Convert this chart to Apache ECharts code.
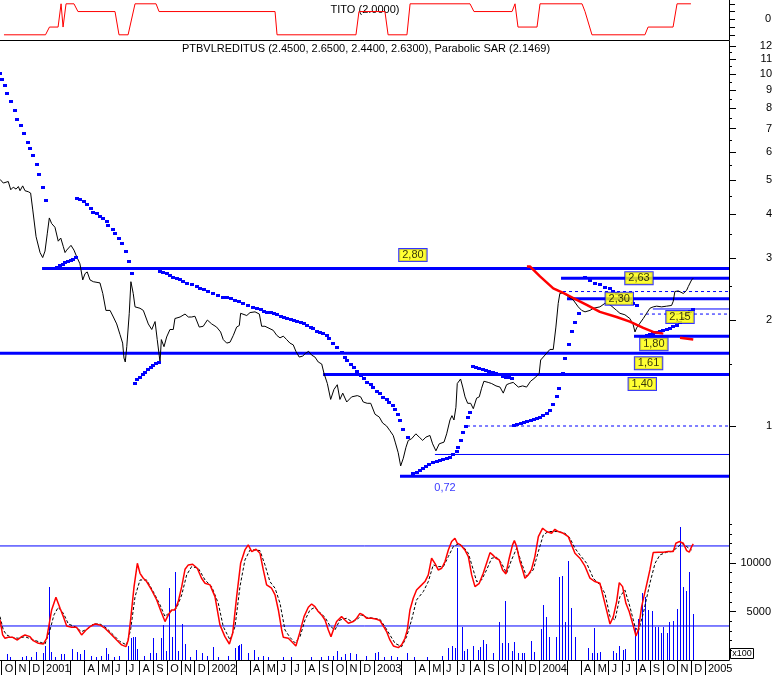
<!DOCTYPE html>
<html><head><meta charset="utf-8">
<script src="https://cdn.jsdelivr.net/npm/echarts@6/dist/echarts.min.js"></script>
<style>html,body{margin:0;padding:0;background:#fff}#c{width:776px;height:675px}</style>
</head><body><div id="c"></div>
<script>
// ---------- axis ranges & tick labels ----------
const xMin = 2000.740, xMax = 2005.145;
const monthLetters = ['', '', '', 'A', 'M', 'J', 'J', 'A', 'S', 'O', 'N', 'D'];
const priceTicks = [1,2,3,4,5,6,7,8,9,10,11,12];
const priceMinorTicks = [1.5,2.5,3.5,4.5,5.5,6.5,7.5,8.5,9.5,10.5,11.5];
const volTicks = [5000, 10000];
const volMinorTicks = [1000,2000,3000,4000,6000,7000,8000,9000,11000,12000,13000,14000];
const titoTicks = [-2,-1,0,1,2];
const titoLabels = [0];
const oscLevels = [80, 20];

// ---------- TITO indicator ----------
const titoData = [[2000.764,-2],[2001.015,-2],[2001.039,-1],[2001.091,-1],[2001.109,2],[2001.121,-1],[2001.139,2],[2001.187,2],[2001.211,1],[2001.435,1],[2001.459,-2],[2001.514,-2],[2001.556,2],[2001.683,2],[2001.701,1],[2002.402,1],[2002.414,-2],[2002.891,-2],[2002.909,1],[2003.066,1],[2003.085,-2],[2003.199,-2],[2003.218,2],[2003.580,2],[2003.604,1],[2003.834,1],[2003.852,2],[2003.870,-1],[2003.985,-1],[2004.003,2],[2004.257,2],[2004.275,1],[2004.317,-2],[2004.637,-2],[2004.656,-1],[2004.807,-1],[2004.831,2],[2004.915,2]];

// ---------- price (close) ----------
const priceData = [[2000.740,5.02],[2000.760,4.90],[2000.790,4.95],[2000.805,4.69],[2000.820,4.77],[2000.837,4.71],[2000.851,4.79],[2000.861,4.66],[2000.877,4.81],[2000.891,4.66],[2000.911,4.63],[2000.925,4.59],[2000.938,4.11],[2000.958,3.45],[2000.982,3.11],[2000.998,3.01],[2001.012,3.14],[2001.026,3.53],[2001.038,3.90],[2001.052,3.76],[2001.072,3.67],[2001.083,3.63],[2001.092,3.35],[2001.107,3.42],[2001.122,3.24],[2001.133,3.11],[2001.143,3.16],[2001.169,3.26],[2001.187,3.16],[2001.203,3.03],[2001.223,2.89],[2001.240,2.60],[2001.254,2.71],[2001.267,2.74],[2001.284,2.60],[2001.304,2.57],[2001.344,2.55],[2001.361,2.38],[2001.380,2.13],[2001.405,2.13],[2001.425,2.04],[2001.445,1.95],[2001.465,1.82],[2001.481,1.72],[2001.489,1.56],[2001.497,1.52],[2001.506,1.68],[2001.521,2.09],[2001.531,2.57],[2001.538,2.60],[2001.545,2.38],[2001.556,2.18],[2001.586,2.16],[2001.606,2.13],[2001.636,1.95],[2001.657,1.88],[2001.677,1.98],[2001.690,1.76],[2001.707,1.52],[2001.715,1.76],[2001.731,1.68],[2001.747,1.79],[2001.767,1.88],[2001.787,1.88],[2001.797,2.02],[2001.828,2.04],[2001.858,2.08],[2001.878,2.04],[2001.898,2.04],[2001.918,2.05],[2001.944,1.91],[2001.968,1.92],[2001.993,2.00],[2002.019,1.95],[2002.049,1.91],[2002.073,1.85],[2002.089,1.76],[2002.110,1.72],[2002.130,1.73],[2002.150,1.81],[2002.170,1.91],[2002.186,1.93],[2002.194,2.09],[2002.206,2.11],[2002.231,2.06],[2002.251,2.10],[2002.281,2.11],[2002.307,2.08],[2002.321,1.92],[2002.341,1.92],[2002.391,1.87],[2002.412,1.81],[2002.432,1.78],[2002.452,1.80],[2002.472,1.76],[2002.492,1.72],[2002.512,1.70],[2002.528,1.63],[2002.548,1.57],[2002.569,1.58],[2002.587,1.61],[2002.605,1.63],[2002.623,1.59],[2002.643,1.57],[2002.663,1.52],[2002.684,1.50],[2002.698,1.41],[2002.718,1.32],[2002.738,1.19],[2002.758,1.27],[2002.778,1.31],[2002.794,1.19],[2002.811,1.24],[2002.835,1.17],[2002.865,1.21],[2002.899,1.22],[2002.919,1.21],[2002.935,1.17],[2002.959,1.16],[2002.980,1.16],[2002.992,1.16],[2003.006,1.08],[2003.032,1.06],[2003.052,1.02],[2003.076,1.00],[2003.096,0.97],[2003.116,0.94],[2003.128,0.90],[2003.146,0.84],[2003.161,0.77],[2003.177,0.81],[2003.193,0.87],[2003.207,0.91],[2003.227,0.92],[2003.253,0.95],[2003.273,0.93],[2003.294,0.91],[2003.314,0.93],[2003.338,0.94],[2003.354,0.89],[2003.374,0.85],[2003.394,0.89],[2003.423,0.90],[2003.439,0.95],[2003.459,1.04],[2003.471,1.07],[2003.483,1.04],[2003.495,1.13],[2003.503,1.32],[2003.523,1.36],[2003.536,1.29],[2003.550,1.21],[2003.566,1.16],[2003.584,1.16],[2003.600,1.12],[2003.620,1.20],[2003.636,1.21],[2003.650,1.28],[2003.664,1.34],[2003.690,1.33],[2003.711,1.32],[2003.737,1.30],[2003.761,1.29],[2003.781,1.24],[2003.801,1.31],[2003.817,1.32],[2003.841,1.33],[2003.872,1.29],[2003.898,1.30],[2003.922,1.29],[2003.946,1.34],[2003.972,1.37],[2003.998,1.41],[2004.007,1.54],[2004.033,1.59],[2004.063,1.65],[2004.083,1.65],[2004.099,1.91],[2004.113,2.23],[2004.123,2.38],[2004.143,2.39],[2004.174,2.33],[2004.204,2.28],[2004.234,2.18],[2004.255,2.13],[2004.275,2.11],[2004.305,2.13],[2004.325,2.16],[2004.365,2.18],[2004.395,2.23],[2004.426,2.21],[2004.466,2.13],[2004.486,2.09],[2004.516,2.07],[2004.546,2.02],[2004.566,1.94],[2004.577,1.85],[2004.587,1.90],[2004.607,1.96],[2004.627,2.02],[2004.647,2.09],[2004.667,2.16],[2004.687,2.18],[2004.708,2.19],[2004.738,2.18],[2004.768,2.19],[2004.798,2.20],[2004.808,2.26],[2004.818,2.41],[2004.838,2.42],[2004.869,2.38],[2004.889,2.43],[2004.899,2.49],[2004.919,2.60],[2004.929,2.63]];

// ---------- Parabolic SAR ----------
const sarData = [
[2000.740,10.09],[2000.750,9.66],[2000.768,9.29],[2000.780,8.81],[2000.806,8.40],[2000.831,7.90],[2000.845,7.46],[2000.865,7.15],[2000.885,6.79],[2000.907,6.41],[2000.921,6.15],[2000.938,5.87],[2000.962,5.54],[2000.977,5.19],[2000.998,4.76],[2001.018,4.39],
[2001.072,2.817],[2001.086,2.836],[2001.103,2.861],[2001.119,2.892],[2001.135,2.918],[2001.151,2.943],[2001.167,2.962],[2001.183,2.988],[2001.199,3.021],
[2001.207,4.45],[2001.223,4.42],[2001.248,4.36],[2001.267,4.27],[2001.288,4.15],[2001.304,4.06],[2001.328,4.02],[2001.344,3.95],[2001.361,3.91],[2001.385,3.82],[2001.394,3.72],[2001.421,3.62],[2001.437,3.53],[2001.461,3.41],[2001.475,3.30],[2001.499,3.15],[2001.518,2.94],[2001.538,2.72],
[2001.554,1.327],[2001.570,1.357],[2001.586,1.381],[2001.602,1.405],[2001.618,1.427],[2001.634,1.449],[2001.651,1.474],[2001.666,1.491],[2001.683,1.507],[2001.699,1.522],
[2001.707,2.762],[2001.727,2.733],[2001.747,2.716],[2001.767,2.685],[2001.787,2.656],[2001.808,2.629],[2001.828,2.612],[2001.844,2.587],[2001.868,2.554],[2001.898,2.527],[2001.928,2.498],[2001.948,2.471],[2001.973,2.445],[2001.999,2.423],[2002.029,2.391],[2002.059,2.356],[2002.086,2.330],[2002.110,2.330],[2002.134,2.306],[2002.160,2.280],[2002.186,2.261],[2002.210,2.240],[2002.240,2.207],[2002.267,2.183],[2002.291,2.160],[2002.315,2.145],[2002.335,2.126],[2002.355,2.112],[2002.376,2.104],[2002.396,2.090],[2002.415,2.076],[2002.436,2.058],[2002.456,2.044],[2002.476,2.031],[2002.496,2.018],[2002.516,2.001],[2002.536,1.988],[2002.557,1.979],[2002.577,1.958],[2002.593,1.936],[2002.617,1.907],[2002.633,1.895],[2002.653,1.865],[2002.673,1.853],[2002.693,1.834],[2002.714,1.813],[2002.730,1.775],[2002.754,1.724],[2002.778,1.674],[2002.805,1.626],[2002.824,1.574],[2002.838,1.540],[2002.859,1.500],[2002.879,1.468],[2002.899,1.433],[2002.919,1.399],[2002.939,1.366],[2002.959,1.336],[2002.980,1.314],[2002.996,1.293],[2003.016,1.257],[2003.036,1.238],[2003.056,1.211],[2003.076,1.191],[2003.092,1.172],[2003.113,1.147],[2003.128,1.115],[2003.147,1.082],[2003.157,1.040],[2003.177,0.979],[2003.203,0.929],
[2003.237,0.734],[2003.258,0.742],[2003.278,0.750],[2003.294,0.758],[2003.314,0.770],[2003.334,0.780],[2003.354,0.789],[2003.379,0.796],[2003.398,0.800],[2003.418,0.804],[2003.439,0.811],[2003.459,0.818],[2003.479,0.833],[2003.499,0.851],[2003.509,0.870],[2003.523,0.912],[2003.539,0.963],[2003.556,1.000],[2003.566,1.059],[2003.580,1.098],
[2003.596,1.480],[2003.616,1.474],[2003.636,1.464],[2003.657,1.455],[2003.676,1.442],[2003.696,1.433],[2003.717,1.423],[2003.737,1.411],[2003.757,1.402],[2003.777,1.390],[2003.797,1.381],[2003.817,1.375],[2003.832,1.369],
[2003.846,1.005],[2003.866,1.013],[2003.886,1.022],[2003.906,1.029],[2003.926,1.035],[2003.947,1.040],[2003.967,1.047],[2003.987,1.054],[2004.003,1.063],[2004.023,1.072],[2004.043,1.087],[2004.063,1.110],[2004.083,1.155],[2004.104,1.217],[2004.119,1.285],[2004.140,1.417],[2004.154,1.557],[2004.180,1.707],[2004.194,1.862],[2004.214,1.979],[2004.240,2.090],
[2004.275,2.645],[2004.305,2.599],[2004.335,2.554],[2004.365,2.532],[2004.395,2.487],[2004.426,2.462],[2004.446,2.418],[2004.466,2.382],[2004.486,2.341],[2004.506,2.306],[2004.536,2.280],[2004.567,2.240],[2004.587,2.207],
[2004.647,1.813],[2004.667,1.825],[2004.687,1.837],[2004.708,1.849],[2004.728,1.862],[2004.748,1.874],[2004.768,1.890],[2004.788,1.903],[2004.808,1.920],[2004.829,1.936],[2004.849,1.979],[2004.869,2.030],[2004.889,2.080],[2004.909,2.120],[2004.929,2.147]
];

// ---------- red trend curve ----------
const redCurve = [[2003.924,2.84],[2003.942,2.84],[2004.003,2.66],[2004.083,2.46],[2004.143,2.39],[2004.204,2.31],[2004.285,2.21],[2004.365,2.11],[2004.466,2.04],[2004.546,1.98],[2004.627,1.90],[2004.687,1.85],[2004.748,1.83],null,[2004.849,1.78],[2004.929,1.76]];

// ---------- support / resistance levels ----------
const thickLevels = [2.80, 2.63, 2.30, 1.80, 1.61, 1.40, 0.72];
const thickStarts = [2000.994, 2004.130, 2004.166, 2004.571, 2000.740, 2002.692, 2003.157];
const thinLevels = [2.41, 2.15, 2.08, 1.00, 0.83];
const thinStarts = [2004.142, 2004.685, 2004.607, 2003.562, 2003.368];
const thinDashed = [true, false, true, true, false];
const labelLevels = [2.80, 2.63, 2.30, 2.15, 1.80, 1.61, 1.40, 0.72];
const labelYears = [2003.235, 2004.601, 2004.482, 2004.849, 2004.691, 2004.659, 2004.621, 2003.429];

// ---------- volume (x100) ----------
const volData = [[2000.784,590],[2000.958,790],[2000.998,690],[2001.014,1440],[2001.038,7560],[2001.050,790],[2001.111,590],[2001.127,650],[2001.173,1130],[2001.207,790],[2001.223,650],[2001.250,1030],[2001.380,1240],[2001.391,650],[2001.515,1440],[2001.532,2270],[2001.544,2400],[2001.558,2340],[2001.570,1130],[2001.648,750],[2001.666,2300],[2001.683,690],[2001.713,2300],[2001.727,3570],[2001.741,930],[2001.763,7420],[2001.781,2400],[2001.799,9070],[2001.817,960],[2001.842,3710],[2001.860,1650],[2001.922,1030],[2001.960,690],[2002.029,1340],[2002.162,1240],[2002.176,1480],[2002.186,1580],[2002.196,1650],[2002.238,750],[2002.277,1030],[2002.778,960],[2002.824,620],[2002.857,750],[2002.891,620],
[2003.006,750],[2003.026,820],[2003.201,750],[2003.449,1200],[2003.469,1440],[2003.489,1270],[2003.503,11510],[2003.529,3440],[2003.545,930],[2003.560,1130],[2003.600,1440],[2003.630,1030],[2003.640,1370],[2003.660,2060],[2003.676,1650],[2003.717,750],[2003.757,3950],[2003.771,1790],[2003.791,6120],[2003.811,1790],[2003.831,930],[2003.848,1890],[2003.872,690],[2003.892,690],[2003.908,750],[2003.948,1990],[2003.968,860],[2004.007,3200],[2004.023,5670],[2004.039,4470],[2004.059,2340],[2004.099,2400],[2004.119,8590],[2004.136,8660],[2004.156,3950],[2004.174,10210],[2004.190,5330],[2004.214,2400],[2004.295,1270],[2004.315,750],[2004.331,3330],[2004.345,690],[2004.365,790],[2004.446,930],[2004.462,750],[2004.482,1440],[2004.502,1030],[2004.516,1130],[2004.577,3270],[2004.597,4190],[2004.617,6870],[2004.637,6530],[2004.657,5160],[2004.677,5080],[2004.698,3440],[2004.714,3440],[2004.732,2820],[2004.748,3440],[2004.768,2820],[2004.784,3950],[2004.808,4050],[2004.828,5230],[2004.849,13680],[2004.865,7560],[2004.885,7150],[2004.905,9100],[2004.925,4740],
[2000.800,350],[2000.870,300],[2000.900,400],[2000.930,300],[2001.070,350],[2001.290,400],[2001.320,300],[2001.350,450],[2001.430,350],[2001.460,400],[2001.610,450],[2001.890,350],[2001.990,400],[2002.060,350],[2002.120,400],[2002.300,350],[2002.330,400],[2002.360,300],[2002.450,300],[2002.500,350],[2002.620,300],[2002.680,350],[2002.720,400],[2002.750,450],[2002.800,350],[2002.950,400],[2003.060,350],[2003.100,400],[2003.140,300],[2003.240,350],[2003.320,300],[2003.410,400]];

// ---------- oscillator ----------
const oscMain = [[2000.740,24.5],[2000.756,13.3],[2000.770,10.8],[2000.790,11.5],[2000.817,11.5],[2000.845,9.5],[2000.871,12.0],[2000.891,13.3],[2000.921,12.0],[2000.941,9.0],[2000.972,7.0],[2001.002,6.5],[2001.022,10.8],[2001.038,22.0],[2001.052,32.0],[2001.078,41.5],[2001.103,33.3],[2001.123,27.0],[2001.143,20.0],[2001.173,19.0],[2001.203,19.0],[2001.233,13.3],[2001.260,17.0],[2001.284,19.5],[2001.314,21.5],[2001.344,20.8],[2001.374,18.3],[2001.405,14.5],[2001.445,9.5],[2001.475,5.8],[2001.501,4.5],[2001.515,9.5],[2001.529,24.5],[2001.550,49.5],[2001.570,67.0],[2001.586,59.5],[2001.606,55.8],[2001.626,53.3],[2001.656,47.0],[2001.687,39.5],[2001.713,30.8],[2001.737,23.3],[2001.757,28.3],[2001.777,32.0],[2001.797,32.0],[2001.817,38.3],[2001.838,49.5],[2001.858,62.5],[2001.878,65.8],[2001.904,66.3],[2001.932,63.3],[2001.958,55.8],[2001.979,52.0],[2002.009,50.8],[2002.039,42.0],[2002.069,20.8],[2002.099,12.0],[2002.126,6.5],[2002.146,14.5],[2002.170,42.0],[2002.194,67.0],[2002.220,77.0],[2002.240,80.8],[2002.261,75.8],[2002.287,77.5],[2002.311,74.5],[2002.331,62.0],[2002.351,50.8],[2002.381,48.3],[2002.402,43.3],[2002.422,32.0],[2002.442,17.0],[2002.452,11.5],[2002.482,10.8],[2002.502,8.3],[2002.528,5.0],[2002.553,15.8],[2002.577,27.0],[2002.603,34.0],[2002.623,36.5],[2002.643,34.5],[2002.663,30.8],[2002.683,28.3],[2002.704,24.5],[2002.724,17.0],[2002.740,12.0],[2002.754,17.0],[2002.774,23.3],[2002.804,27.0],[2002.824,24.5],[2002.845,22.0],[2002.875,23.3],[2002.895,25.8],[2002.915,29.5],[2002.935,28.3],[2002.955,25.8],[2002.986,25.8],[2003.016,25.0],[2003.036,24.0],[2003.056,20.0],[2003.076,15.8],[2003.096,9.5],[2003.117,5.0],[2003.147,3.8],[2003.167,5.8],[2003.187,10.8],[2003.201,17.0],[2003.217,32.0],[2003.237,40.8],[2003.257,47.0],[2003.288,50.8],[2003.308,53.3],[2003.328,58.3],[2003.348,70.8],[2003.368,67.0],[2003.388,62.0],[2003.409,63.3],[2003.429,68.3],[2003.449,77.0],[2003.469,83.3],[2003.489,85.8],[2003.503,82.0],[2003.523,80.8],[2003.549,77.0],[2003.570,72.0],[2003.590,58.3],[2003.610,49.5],[2003.636,52.0],[2003.660,59.5],[2003.680,67.0],[2003.701,75.0],[2003.717,73.3],[2003.737,70.8],[2003.757,69.5],[2003.777,62.0],[2003.797,59.0],[2003.817,70.8],[2003.837,80.8],[2003.848,84.0],[2003.862,79.5],[2003.882,68.3],[2003.898,62.0],[2003.912,55.8],[2003.932,58.3],[2003.952,62.5],[2003.972,72.0],[2003.993,87.0],[2004.019,93.3],[2004.043,90.8],[2004.073,89.5],[2004.093,92.5],[2004.113,90.8],[2004.144,89.5],[2004.174,87.0],[2004.194,80.8],[2004.214,74.5],[2004.244,70.8],[2004.274,65.0],[2004.305,55.8],[2004.335,53.3],[2004.365,52.0],[2004.395,37.0],[2004.426,21.5],[2004.446,27.0],[2004.466,38.3],[2004.482,52.5],[2004.502,49.5],[2004.522,37.0],[2004.542,30.8],[2004.567,20.0],[2004.583,12.5],[2004.597,17.0],[2004.617,34.5],[2004.647,50.8],[2004.667,62.0],[2004.687,75.0],[2004.718,75.3],[2004.748,75.3],[2004.778,75.8],[2004.808,75.8],[2004.824,82.0],[2004.844,83.3],[2004.869,82.0],[2004.889,76.5],[2004.905,75.3],[2004.919,79.5],[2004.929,81.5]];
const oscSignal = [[2000.740,27.0],[2000.760,17.0],[2000.780,13.3],[2000.810,11.5],[2000.851,10.8],[2000.891,12.0],[2000.931,10.0],[2000.972,8.3],[2001.012,6.5],[2001.042,17.0],[2001.066,28.3],[2001.092,34.0],[2001.123,29.5],[2001.153,21.5],[2001.193,19.5],[2001.233,15.8],[2001.264,17.5],[2001.304,21.5],[2001.344,21.5],[2001.384,18.3],[2001.425,13.3],[2001.465,8.3],[2001.505,5.8],[2001.529,17.0],[2001.556,42.0],[2001.586,54.5],[2001.626,54.5],[2001.666,45.8],[2001.707,35.8],[2001.737,27.0],[2001.767,30.8],[2001.807,33.3],[2001.838,43.3],[2001.868,58.3],[2001.898,64.5],[2001.938,63.3],[2001.979,54.5],[2002.019,49.5],[2002.059,37.0],[2002.089,19.5],[2002.130,9.5],[2002.160,19.5],[2002.190,49.5],[2002.220,69.5],[2002.251,77.0],[2002.281,77.0],[2002.311,76.5],[2002.341,65.8],[2002.371,53.3],[2002.402,48.3],[2002.432,37.0],[2002.462,17.0],[2002.492,11.5],[2002.522,7.5],[2002.553,12.0],[2002.583,24.5],[2002.613,32.0],[2002.643,34.0],[2002.673,30.0],[2002.704,26.5],[2002.734,20.0],[2002.764,17.0],[2002.794,24.5],[2002.835,25.8],[2002.865,23.3],[2002.895,24.5],[2002.925,28.3],[2002.955,26.5],[2002.996,25.8],[2003.036,25.0],[2003.066,19.5],[2003.096,13.3],[2003.127,7.0],[2003.167,4.5],[2003.197,12.0],[2003.227,24.5],[2003.257,39.5],[2003.298,45.8],[2003.328,53.3],[2003.358,65.8],[2003.388,64.5],[2003.419,64.5],[2003.449,72.0],[2003.479,79.5],[2003.509,81.5],[2003.539,79.5],[2003.570,74.5],[2003.600,62.0],[2003.620,53.3],[2003.650,54.5],[2003.680,62.0],[2003.711,70.8],[2003.741,71.5],[2003.771,67.0],[2003.801,59.5],[2003.831,69.5],[2003.862,78.3],[2003.892,67.0],[2003.922,57.0],[2003.962,62.0],[2003.993,75.8],[2004.023,88.3],[2004.053,90.8],[2004.083,90.8],[2004.113,90.8],[2004.154,89.5],[2004.184,85.8],[2004.214,78.3],[2004.244,73.3],[2004.285,67.0],[2004.325,55.8],[2004.365,50.8],[2004.395,44.5],[2004.426,27.0],[2004.456,24.5],[2004.486,42.0],[2004.516,47.0],[2004.546,34.5],[2004.577,19.5],[2004.597,15.8],[2004.627,29.5],[2004.667,52.0],[2004.698,67.0],[2004.728,73.3],[2004.768,75.3],[2004.798,75.8],[2004.828,78.3],[2004.859,82.0],[2004.889,79.5],[2004.919,77.0]];

// ---------- build ----------
const FONT = 'Liberation Sans, Arial, sans-serif';
const BLUE = '#0000ff';
const monthTicks = [];
for (let k = Math.ceil(xMin * 12); k <= Math.floor(xMax * 12); k++) {
  if (k % 12 === 1) continue;
  monthTicks.push(k / 12);
}
function monthLabel(v) {
  const k = Math.round(v * 12); const y = Math.floor(k / 12); const m = k - y * 12;
  return m === 0 ? String(y) : monthLetters[m];
}
function fmtLevel(v) { return v.toFixed(2).replace('.', ','); }

const baseX = { type: 'value', min: xMin, max: xMax, splitLine: { show: false },
  axisLabel: { show: false }, axisTick: { show: false }, axisLine: { show: false, onZero: false } };

const series = [];
series.push({ type: 'line', xAxisIndex: 0, yAxisIndex: 0, data: titoData, symbol: 'none',
  lineStyle: { color: '#ff0000', width: 1 }, z: 3 });

thickLevels.forEach((v, i) => series.push({ type: 'line', xAxisIndex: 1, yAxisIndex: 1,
  data: [[thickStarts[i], v], [xMax, v]], symbol: 'none', lineStyle: { color: BLUE, width: 3 }, z: 2 }));
thinLevels.forEach((v, i) => series.push({ type: 'line', xAxisIndex: 1, yAxisIndex: 1,
  data: [[thinStarts[i], v], [xMax, v]], symbol: 'none',
  lineStyle: { color: BLUE, width: 1, type: thinDashed[i] ? [3, 3] : 'solid' }, z: 2 }));

series.push({ type: 'line', xAxisIndex: 1, yAxisIndex: 1, data: priceData, symbol: 'none',
  lineStyle: { color: '#000', width: 1 }, z: 4 });
// SAR dots snapped to whole pixels so they stay crisp
series.push({ type: 'custom', xAxisIndex: 1, yAxisIndex: 1, data: sarData, z: 5,
  renderItem: function (params, api) {
    const p = api.coord([api.value(0), api.value(1)]);
    return { type: 'rect', shape: { x: Math.round(p[0]) - 2, y: Math.round(p[1]) - 1, width: 4, height: 3 },
      style: { fill: BLUE } };
  } });
series.push({ type: 'line', xAxisIndex: 1, yAxisIndex: 1, data: redCurve, symbol: 'none',
  connectNulls: false, lineStyle: { color: '#ff0000', width: 2.5 }, z: 6 });

const labelOffsets = [-13.5, 0, 0, 8, 8, 10, 9.5, 12];
series.push({ type: 'scatter', xAxisIndex: 1, yAxisIndex: 1, symbolSize: 0, z: 10,
  data: labelLevels.map((v, i) => {
    const boxed = i < labelLevels.length - 1;
    return { value: [labelYears[i], v], label: { show: true, position: 'inside', offset: [0, labelOffsets[i]],
      formatter: fmtLevel(v), fontFamily: FONT, fontSize: 11, color: boxed ? '#000' : BLUE,
      backgroundColor: boxed ? '#ffff00' : 'transparent', borderColor: boxed ? BLUE : 'transparent',
      borderWidth: boxed ? 1 : 0, padding: [1, 3, 0, 3] } };
  }) });

// volume bars as crisp 1px columns
series.push({ type: 'custom', xAxisIndex: 2, yAxisIndex: 3, data: volData, z: 2,
  renderItem: function (params, api) {
    const top = api.coord([api.value(0), api.value(1)]);
    const base = api.coord([api.value(0), 0]);
    return { type: 'rect', shape: { x: Math.round(top[0]), y: Math.round(top[1]), width: 1, height: Math.round(base[1]) - Math.round(top[1]) },
      style: { fill: BLUE } };
  } });
oscLevels.forEach(v => series.push({ type: 'line', xAxisIndex: 2, yAxisIndex: 5,
  data: [[xMin, v], [xMax, v]], symbol: 'none', lineStyle: { color: BLUE, width: 1 }, z: 3 }));
series.push({ type: 'line', xAxisIndex: 2, yAxisIndex: 5, data: oscSignal, symbol: 'none',
  lineStyle: { color: '#000', width: 1, type: [3, 2] }, z: 4 });
series.push({ type: 'line', xAxisIndex: 2, yAxisIndex: 5, data: oscMain, symbol: 'none',
  lineStyle: { color: '#ff0000', width: 1.5 }, z: 5 });

const rightAxisCommon = { position: 'right', splitLine: { show: false },
  axisLine: { show: true, onZero: false, lineStyle: { color: '#000', width: 1 } } };

const option = {
  animation: false,
  backgroundColor: '#fff',
  grid: [
    { left: 0, width: 729, top: 0, height: 40 },
    { left: 0, width: 729, top: 41, height: 476 },
    { left: 0, width: 729, top: 517, height: 143 }
  ],
  xAxis: [
    Object.assign({}, baseX, { gridIndex: 0, axisLine: { show: true, onZero: false, lineStyle: { color: '#000', width: 1 } } }),
    Object.assign({}, baseX, { gridIndex: 1 }),
    Object.assign({}, baseX, { gridIndex: 2,
      axisLine: { show: true, onZero: false, lineStyle: { color: '#000', width: 1 } },
      axisTick: { show: true, customValues: monthTicks, length: 15, lineStyle: { color: '#000' } },
      axisLabel: { show: true, customValues: monthTicks, formatter: monthLabel, align: 'left',
        padding: [0, 0, 0, 3], margin: 3, fontFamily: FONT, fontSize: 11, color: '#000' } })
  ],
  yAxis: [
    Object.assign({}, rightAxisCommon, { gridIndex: 0, type: 'value', min: -2.67, max: 2.49,
      axisTick: { show: true, customValues: titoTicks, length: 6, lineStyle: { color: '#000' } },
      axisLabel: { show: true, customValues: titoLabels, margin: 42, align: 'right', fontFamily: FONT, fontSize: 11, color: '#000' } }),
    Object.assign({}, rightAxisCommon, { gridIndex: 1, type: 'log', logBase: 10, min: 0.5514, max: 12.41,
      axisTick: { show: true, customValues: priceTicks, length: 7, lineStyle: { color: '#000' } },
      axisLabel: { show: true, customValues: priceTicks, formatter: v => String(Math.round(v)), margin: 43, align: 'right', fontFamily: FONT, fontSize: 11, color: '#000' } }),
    { gridIndex: 1, type: 'log', logBase: 10, min: 0.5514, max: 12.41, position: 'right', splitLine: { show: false },
      axisLine: { show: false, onZero: false },
      axisTick: { show: true, customValues: priceMinorTicks, length: 3, lineStyle: { color: '#000' } },
      axisLabel: { show: false } },
    Object.assign({}, rightAxisCommon, { gridIndex: 2, type: 'value', min: 0, max: 14742,
      axisTick: { show: true, customValues: volTicks, length: 7, lineStyle: { color: '#000' } },
      axisLabel: { show: true, customValues: volTicks, formatter: v => String(v), margin: 42, align: 'right', fontFamily: FONT, fontSize: 11, color: '#000' } }),
    { gridIndex: 2, type: 'value', min: 0, max: 14742, position: 'right', splitLine: { show: false },
      axisLine: { show: false, onZero: false },
      axisTick: { show: true, customValues: volMinorTicks, length: 3, lineStyle: { color: '#000' } },
      axisLabel: { show: false } },
    { gridIndex: 2, type: 'value', min: -5.5, max: 101.7, show: false }
  ],
  graphic: [
    { type: 'text', x: 366, y: 49, style: { text: 'PTBVLREDITUS (2.4500, 2.6500, 2.4400, 2.6300), Parabolic SAR (2.1469)',
      fill: '#000', font: '11px ' + FONT, textAlign: 'center', textVerticalAlign: 'middle' } },
    { type: 'text', x: 365, y: 10, style: { text: 'TITO (2.0000)', fill: '#000', font: '11px ' + FONT,
      textAlign: 'center', textVerticalAlign: 'middle' } },
    { type: 'rect', shape: { x: 730.5, y: 648.5, width: 23, height: 10 }, style: { fill: '#fff', stroke: '#000', lineWidth: 1 } },
    { type: 'text', x: 742, y: 654, style: { text: 'x100', fill: '#000', font: '9px ' + FONT, textAlign: 'center', textVerticalAlign: 'middle' } }
  ],
  series: series
};
const chart = echarts.init(document.getElementById('c'), null, { renderer: 'canvas' });
chart.setOption(option);
</script></body></html>
